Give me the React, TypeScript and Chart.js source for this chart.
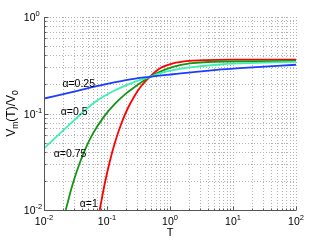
import React, { useEffect, useRef } from 'react';
import { Chart, registerables } from 'chart.js';

Chart.register(...registerables);

// ---- Data ----
const T_A025 = [0.01, 0.0288, 0.0638, 0.191, 0.479, 1.117, 3.78, 12.8, 100];
const V_A025 = [0.143, 0.168, 0.19, 0.221, 0.24, 0.255, 0.277, 0.295, 0.32];

const T_A05 = [0.01, 0.0288, 0.0638, 0.132, 0.275, 0.479, 0.686, 1.117, 2.06, 6.9, 23.4, 100];
const V_A05 = [0.0435, 0.083, 0.131, 0.173, 0.213, 0.24, 0.26, 0.281, 0.3, 0.324, 0.334, 0.343];

const T_A075 = [0.0221, 0.0288, 0.0369, 0.0471, 0.06, 0.089, 0.132, 0.191, 0.275, 0.479, 0.686, 1.117, 2.06, 6.9, 100];
const V_A075 = [0.01, 0.0189, 0.0307, 0.0454, 0.0622, 0.0923, 0.125, 0.157, 0.188, 0.24, 0.27, 0.304, 0.33, 0.346, 0.35];

const T_A1 = [0.0766, 0.0918, 0.11, 0.132, 0.169, 0.215, 0.275, 0.352, 0.479, 0.686, 1.117, 2.06, 3.78, 10, 100];
const V_A1 = [0.01, 0.0186, 0.0313, 0.0486, 0.0787, 0.114, 0.153, 0.194, 0.24, 0.292, 0.33, 0.351, 0.358, 0.361, 0.362];

const SERIES_NAMES = ['α=0.25', 'α=0.5', 'α=0.75', 'α=1'];
const SERIES_COLORS = ['#1e3cff', '#3ef0b0', '#149614', '#ff0000'];

// curve label anchors (data coordinates: T, value)
const LABEL_T = [0.0196, 0.0184, 0.0143, 0.0369];
const LABEL_V = [0.206, 0.106, 0.039, 0.0119];

// axes
const X_MIN = 0.01;
const X_MAX = 100;
const Y_MIN = 0.01;
const Y_MAX = 1;
const X_DECADES = [0.01, 0.1, 1, 10, 100];
const X_TICK_EXP = ['-2', '-1', '0', '1', '2'];
const Y_DECADES = [0.01, 0.1, 1];
const Y_TICK_EXP = ['-2', '-1', '0'];
const MULTIPLIERS = [1, 2, 3, 4, 5, 6, 7, 8, 9];

const FONT = '"Liberation Sans", Arial, Helvetica, sans-serif';

type Seg = { text: string; size: number; dy?: number };

function segWidth(ctx: CanvasRenderingContext2D, segs: Seg[]) {
  let w = 0;
  for (const s of segs) {
    ctx.font = `${s.size}px ${FONT}`;
    w += ctx.measureText(s.text).width;
  }
  return w;
}

function drawSegs(ctx: CanvasRenderingContext2D, segs: Seg[], x: number, y: number) {
  let cx = x;
  ctx.textAlign = 'left';
  ctx.textBaseline = 'alphabetic';
  for (const s of segs) {
    ctx.font = `${s.size}px ${FONT}`;
    ctx.fillText(s.text, cx, y + (s.dy || 0));
    cx += ctx.measureText(s.text).width;
  }
}

function gridValues(decades: number[], max: number) {
  const out: number[] = [];
  for (const d of decades) {
    for (const m of MULTIPLIERS) {
      const v = d * m;
      if (v <= max * 1.0001) out.push(v);
    }
  }
  return out;
}

const decorPlugin = {
  id: 'decor',
  beforeDatasetsDraw(chart: any) {
    const { ctx, chartArea, scales } = chart;
    const xs = scales.x;
    const ys = scales.y;
    ctx.save();
    ctx.strokeStyle = '#b2b2b2';
    ctx.lineWidth = 1;
    ctx.setLineDash([1, 2]);
    for (const v of gridValues(X_DECADES, X_MAX)) {
      const px = Math.round(xs.getPixelForValue(v)) + 0.5;
      ctx.beginPath();
      ctx.moveTo(px, chartArea.top);
      ctx.lineTo(px, chartArea.bottom);
      ctx.stroke();
    }
    for (const v of gridValues(Y_DECADES, Y_MAX)) {
      const py = Math.round(ys.getPixelForValue(v)) + 0.5;
      ctx.beginPath();
      ctx.moveTo(chartArea.left, py);
      ctx.lineTo(chartArea.right, py);
      ctx.stroke();
    }
    ctx.restore();
  },
  afterDatasetsDraw(chart: any) {
    const { ctx, chartArea, scales } = chart;
    const xs = scales.x;
    const ys = scales.y;
    const left = Math.round(chartArea.left) + 0.5;
    const bottom = Math.round(chartArea.bottom) + 0.5;
    ctx.save();
    ctx.setLineDash([]);
    ctx.strokeStyle = '#555555';
    ctx.lineWidth = 1;
    // axes
    ctx.beginPath();
    ctx.moveTo(left, chartArea.top);
    ctx.lineTo(left, bottom);
    ctx.lineTo(chartArea.right, bottom);
    ctx.stroke();
    // tick marks (inward)
    for (const v of gridValues(X_DECADES, X_MAX)) {
      const px = Math.round(xs.getPixelForValue(v)) + 0.5;
      const major = X_DECADES.includes(v);
      ctx.beginPath();
      ctx.moveTo(px, bottom);
      ctx.lineTo(px, bottom - (major ? 4 : 2));
      ctx.stroke();
    }
    for (const v of gridValues(Y_DECADES, Y_MAX)) {
      const py = Math.round(ys.getPixelForValue(v)) + 0.5;
      const major = Y_DECADES.includes(v);
      ctx.beginPath();
      ctx.moveTo(left, py);
      ctx.lineTo(left + (major ? 4 : 2), py);
      ctx.stroke();
    }

    ctx.fillStyle = '#000000';
    // x tick labels
    X_DECADES.forEach((v, i) => {
      const segs: Seg[] = [
        { text: '10', size: 10.5 },
        { text: X_TICK_EXP[i], size: 7.5, dy: -5 },
      ];
      const w = segWidth(ctx, segs);
      const px = xs.getPixelForValue(v);
      drawSegs(ctx, segs, px - w / 2, chartArea.bottom + 14.5);
    });
    // y tick labels
    Y_DECADES.forEach((v, i) => {
      const base: Seg[] = [{ text: '10', size: 10.5 }];
      const w10 = segWidth(ctx, base);
      const py = ys.getPixelForValue(v);
      drawSegs(
        ctx,
        [
          { text: '10', size: 10.5 },
          { text: Y_TICK_EXP[i], size: 7.5, dy: -5 },
        ],
        chartArea.left - 8.5 - w10,
        py + 4
      );
    });
    // x title
    {
      const segs: Seg[] = [{ text: 'T', size: 11 }];
      const w = segWidth(ctx, segs);
      drawSegs(ctx, segs, (chartArea.left + chartArea.right) / 2 - w / 2, chartArea.bottom + 25.5);
    }
    // y title
    {
      const segs: Seg[] = [
        { text: 'V', size: 12 },
        { text: 'm', size: 8.5, dy: 3 },
        { text: '(T)/V', size: 12 },
        { text: '0', size: 8.5, dy: 3 },
      ];
      const w = segWidth(ctx, segs);
      ctx.save();
      ctx.translate(15, (chartArea.top + chartArea.bottom) / 2);
      ctx.rotate(-Math.PI / 2);
      drawSegs(ctx, segs, -w / 2, 0);
      ctx.restore();
    }
    // curve labels
    SERIES_NAMES.forEach((name, i) => {
      const px = xs.getPixelForValue(LABEL_T[i]);
      const py = ys.getPixelForValue(LABEL_V[i]);
      drawSegs(ctx, [{ text: name, size: 10.5 }], px, py + 4);
    });
    ctx.restore();
  },
};

function makeSeries(ts: number[], vs: number[]) {
  return ts.map((t, i) => ({ x: t, y: vs[i] }));
}

export default function App() {
  const canvasRef = useRef<HTMLCanvasElement | null>(null);

  useEffect(() => {
    document.body.style.margin = '0';
    const canvas = canvasRef.current;
    if (!canvas) return;
    const allT = [T_A025, T_A05, T_A075, T_A1];
    const allV = [V_A025, V_A05, V_A075, V_A1];
    const chart = new Chart(canvas, {
      type: 'scatter',
      data: {
        datasets: SERIES_NAMES.map((name, i) => ({
          label: name,
          data: makeSeries(allT[i], allV[i]),
          showLine: true,
          borderColor: SERIES_COLORS[i],
          backgroundColor: SERIES_COLORS[i],
          borderWidth: 1.8,
          pointRadius: 0,
          pointHoverRadius: 0,
          cubicInterpolationMode: 'monotone' as const,
          fill: false,
        })),
      },
      options: {
        responsive: false,
        animation: false,
        devicePixelRatio: 1,
        layout: { padding: { left: 44, right: 31, top: 17, bottom: 37 } },
        plugins: {
          legend: { display: false },
          tooltip: { enabled: false },
        },
        events: [],
        scales: {
          x: { type: 'logarithmic', min: X_MIN, max: X_MAX, display: false },
          y: { type: 'logarithmic', min: Y_MIN, max: Y_MAX, display: false },
        },
      },
      plugins: [decorPlugin],
    });
    return () => chart.destroy();
  }, []);

  return (
    <canvas
      ref={canvasRef}
      width={327}
      height={247}
      style={{ display: 'block', width: 327, height: 247, background: '#ffffff' }}
    />
  );
}
